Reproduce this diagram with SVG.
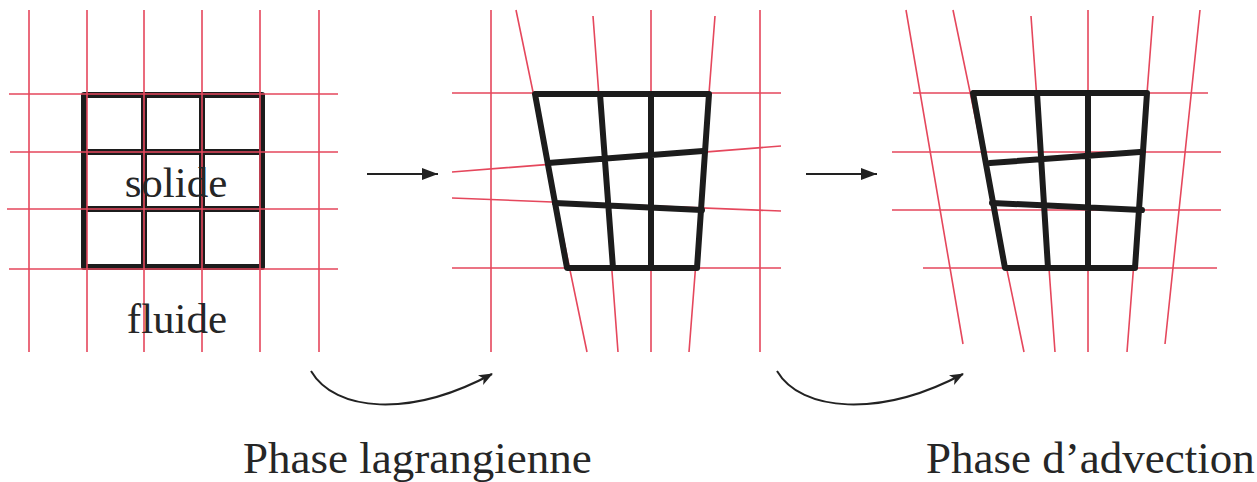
<svg xmlns="http://www.w3.org/2000/svg" width="1257" height="482" viewBox="0 0 1257 482">
<style>
.r{stroke:#e5475c;stroke-width:1.6;fill:none}
.b{stroke:#1c1c1c;stroke-width:6;fill:none;stroke-linecap:round;stroke-linejoin:round}
.t{font-family:"Liberation Serif","Times New Roman",serif;fill:#262626}
.a{stroke:#222;stroke-width:2;fill:none}
</style>
<defs>
<marker id="ah" viewBox="0 0 14 11" refX="13" refY="5.5" markerWidth="14" markerHeight="11" markerUnits="userSpaceOnUse" orient="auto">
<path d="M0,0 L14,5.5 L0,11 L3.5,5.5 z" fill="#222"/>
</marker>
<marker id="ah2" viewBox="0 0 16 12" refX="16" refY="6" markerWidth="16" markerHeight="12" markerUnits="userSpaceOnUse" orient="auto">
<path d="M0,0 L16,6 L0,12 z" fill="#222"/>
</marker>
</defs>
<rect width="1257" height="482" fill="#fff"/>
<g id="panel1">
<g class="b">
<rect x="84" y="95" width="178" height="172"/>
<path d="M144,95 V267 M202,95 V267 M84,152 H262 M84,209 H262"/>
</g>
<g class="r">
<path d="M29,10 V352 M87,10 V352 M144,10 V352 M202,10 V352 M260,10 V352 M319,10 V352"/>
<path d="M9,94 H338 M10,152 H338 M7,209 H338 M9,269 H338"/>
</g>
<text class="t" x="176" y="197" font-size="43" text-anchor="middle">solide</text>
<text class="t" x="177" y="333" font-size="43" text-anchor="middle">fluide</text>
</g>
<g id="panel2">
<g class="r">
<path d="M491,10 V352 M516,10 L587,352 M593,16 L618,352 M651,10 V352 M715,16 L689,352 M760,10 V352"/>
<path d="M452,93 H781 M452,172 L781,146 M452,198 L781,211 M452,268 H781"/>
</g>
<g class="b">
<path d="M535,94 L709,94 L697,268 L567,268 Z"/>
<path d="M600,94 L613,268 M651,94 V268 M548,163 L703,151 M555,203 L702,210"/>
</g>
</g>
<g id="panel3">
<g class="r">
<path d="M906,10 L963,344 M953,10 L1024,352 M1031,16 L1055,352 M1088,10 V352 M1153,16 L1127,352 M1200,10 L1165,344"/>
<path d="M913,93 H1208 M892,152 H1221 M892,210 H1221 M923,268 H1217"/>
</g>
<g class="b">
<path d="M973,93 L1147,93 L1135,268 L1005,268 Z"/>
<path d="M1037,93 L1048,268 M1088,93 V268 M990,163 L1140,152 M992,203 L1142,210"/>
</g>
</g>
<g id="label1"><text class="t" x="243" y="473" font-size="45">Phase lagrangienne</text></g>
<g id="label2"><text class="t" x="926" y="473" font-size="45">Phase d’advection</text></g>
<g id="connectors">
<path class="a" d="M367,174 H438" marker-end="url(#ah2)"/>
<path class="a" d="M806,174 H877" marker-end="url(#ah2)"/>
<path class="a" d="M311,371 C335,412 410,418 492,374" marker-end="url(#ah)"/>
<path class="a" d="M777,371 C801,412 880,418 963,374" marker-end="url(#ah)"/>
</g>
</svg>
